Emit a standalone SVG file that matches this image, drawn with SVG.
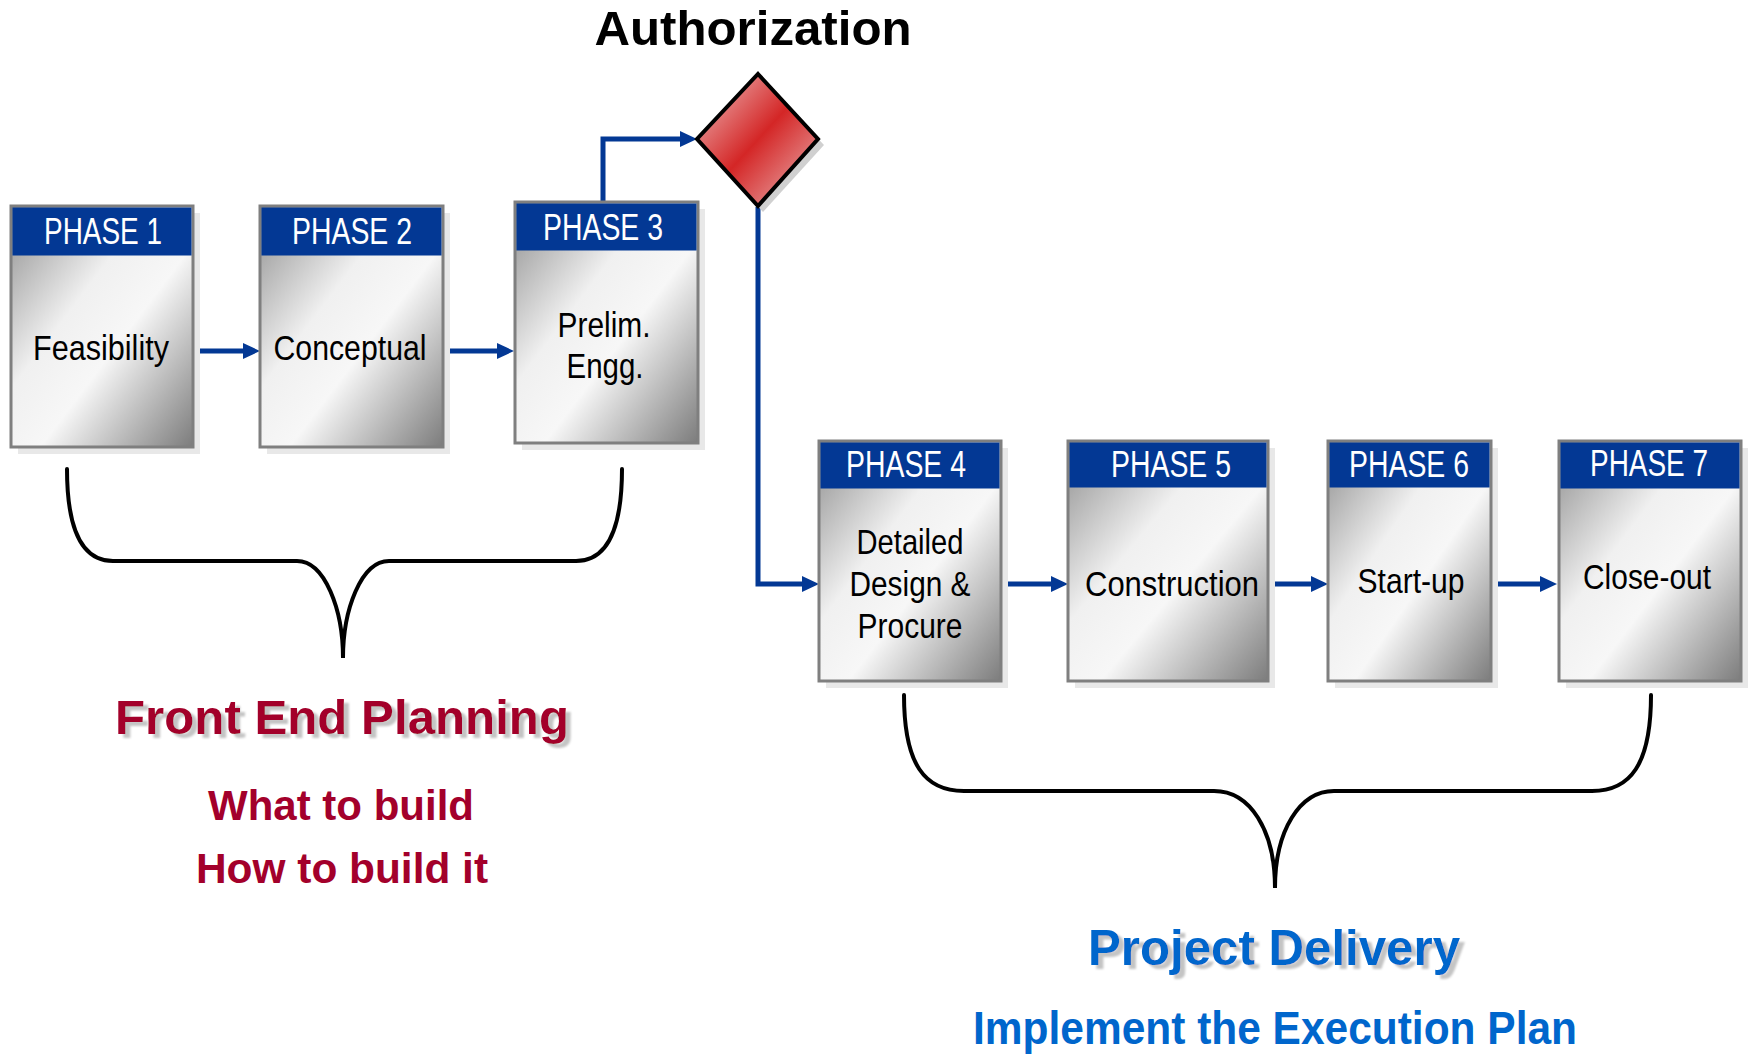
<svg xmlns="http://www.w3.org/2000/svg" width="1750" height="1055" viewBox="0 0 1750 1055">
  <defs>
    <linearGradient id="boxGrad" x1="0" y1="0" x2="1" y2="1">
      <stop offset="0" stop-color="#8e8e8e"/>
      <stop offset="0.38" stop-color="#f0f0f0"/>
      <stop offset="0.58" stop-color="#f7f7f7"/>
      <stop offset="1" stop-color="#7c7c7c"/>
    </linearGradient>
    <linearGradient id="diaGrad" x1="0" y1="0" x2="1" y2="1">
      <stop offset="0" stop-color="#efc4c4"/>
      <stop offset="0.5" stop-color="#d42626"/>
      <stop offset="1" stop-color="#ecbcbc"/>
    </linearGradient>
    <filter id="tshadow" x="-5%" y="-20%" width="115%" height="150%">
      <feDropShadow dx="5" dy="4" stdDeviation="0.8" flood-color="#c4c4c4" flood-opacity="1"/>
    </filter>
    <marker id="arr" markerUnits="userSpaceOnUse" markerWidth="18" markerHeight="18" refX="7" refY="8" orient="auto">
      <path d="M0,0 L17,8 L0,16 Z" fill="#033894"/>
    </marker>
  </defs>
  <style>
    .shadow { fill: #e8e8e8; }
    .body { fill: url(#boxGrad); stroke: #7f7f7f; stroke-width: 3; }
    .head { fill: #033894; }
    .htxt { font-family: "Liberation Sans Narrow", "Arial Narrow", "Liberation Sans", sans-serif; font-size: 36px; fill: #ffffff; text-anchor: middle; }
    .btxt { font-family: "Liberation Sans Narrow", "Arial Narrow", "Liberation Sans", sans-serif; font-size: 35px; fill: #000000; text-anchor: middle; }
    .conn { fill: none; stroke: #033894; stroke-width: 5; marker-end: url(#arr); }
    .brace { fill: none; stroke: #000000; stroke-width: 4; stroke-linecap: round; }
    .title { font-family: "Liberation Sans", Arial, sans-serif; font-weight: bold; text-anchor: middle; }
    .red { fill: #a3002b; }
    .blue { fill: #0066cc; }
    .sh { filter: url(#tshadow); }
  </style>

  <text class="title" x="753" y="45" font-size="48" fill="#000000" textLength="317" lengthAdjust="spacingAndGlyphs">Authorization</text>

  <g id="connectors">
    <path class="conn" d="M198,351 H250"/>
    <path class="conn" d="M449,351 H504"/>
    <path class="conn" d="M603,203 V139 H687"/>
    <path class="conn" d="M758,207 V584 H809"/>
    <path class="conn" d="M1007,584 H1058"/>
    <path class="conn" d="M1270,584 H1318"/>
    <path class="conn" d="M1493,584 H1547"/>
  </g>

  <g id="authorization">
    <polygon points="763,80 824,145 763,212 703,145" fill="#d0d0d0"/>
    <polygon points="758,74 818,139 758,206 697,139" fill="url(#diaGrad)" stroke="#000000" stroke-width="4" stroke-linejoin="miter"/>
  </g>

  <g id="phase1">
    <rect class="shadow" x="18" y="213" width="182" height="241"/>
    <rect class="body" x="11" y="206" width="182" height="241"/>
    <rect class="head" x="12.5" y="207.5" width="179" height="48"/>
    <text class="htxt" x="103" y="244" textLength="118" lengthAdjust="spacingAndGlyphs">PHASE 1</text>
    <text class="btxt" x="101" y="360" textLength="136" lengthAdjust="spacingAndGlyphs">Feasibility</text>
  </g>

  <g id="phase2">
    <rect class="shadow" x="267" y="213" width="183" height="241"/>
    <rect class="body" x="260" y="206" width="183" height="241"/>
    <rect class="head" x="261.5" y="207.5" width="180" height="48"/>
    <text class="htxt" x="352" y="244" textLength="120" lengthAdjust="spacingAndGlyphs">PHASE 2</text>
    <text class="btxt" x="350" y="360" textLength="153" lengthAdjust="spacingAndGlyphs">Conceptual</text>
  </g>

  <g id="phase3">
    <rect class="shadow" x="522" y="209" width="183" height="241"/>
    <rect class="body" x="515" y="202" width="183" height="241"/>
    <rect class="head" x="516.5" y="203.5" width="180" height="47"/>
    <text class="htxt" x="603" y="240" textLength="120" lengthAdjust="spacingAndGlyphs">PHASE 3</text>
    <text class="btxt" x="604" y="337" textLength="93" lengthAdjust="spacingAndGlyphs">Prelim.</text>
    <text class="btxt" x="605" y="378" textLength="77" lengthAdjust="spacingAndGlyphs">Engg.</text>
  </g>

  <g id="phase4">
    <rect class="shadow" x="826" y="448" width="182" height="240"/>
    <rect class="body" x="819" y="441" width="182" height="240"/>
    <rect class="head" x="820.5" y="442.5" width="179" height="46"/>
    <text class="htxt" x="906" y="477" textLength="120" lengthAdjust="spacingAndGlyphs">PHASE 4</text>
    <text class="btxt" x="910" y="554" textLength="107" lengthAdjust="spacingAndGlyphs">Detailed</text>
    <text class="btxt" x="910" y="596" textLength="121" lengthAdjust="spacingAndGlyphs">Design &amp;</text>
    <text class="btxt" x="910" y="638" textLength="105" lengthAdjust="spacingAndGlyphs">Procure</text>
  </g>

  <g id="phase5">
    <rect class="shadow" x="1075" y="448" width="200" height="240"/>
    <rect class="body" x="1068" y="441" width="200" height="240"/>
    <rect class="head" x="1069.5" y="442.5" width="197" height="45"/>
    <text class="htxt" x="1171" y="477" textLength="120" lengthAdjust="spacingAndGlyphs">PHASE 5</text>
    <text class="btxt" x="1172" y="596" textLength="174" lengthAdjust="spacingAndGlyphs">Construction</text>
  </g>

  <g id="phase6">
    <rect class="shadow" x="1335" y="448" width="163" height="240"/>
    <rect class="body" x="1328" y="441" width="163" height="240"/>
    <rect class="head" x="1329.5" y="442.5" width="160" height="45"/>
    <text class="htxt" x="1409" y="477" textLength="120" lengthAdjust="spacingAndGlyphs">PHASE 6</text>
    <text class="btxt" x="1411" y="593" textLength="107" lengthAdjust="spacingAndGlyphs">Start-up</text>
  </g>

  <g id="phase7">
    <rect class="shadow" x="1566" y="448" width="182" height="240"/>
    <rect class="body" x="1559" y="441" width="182" height="240"/>
    <rect class="head" x="1560.5" y="442.5" width="179" height="46"/>
    <text class="htxt" x="1649" y="476" textLength="118" lengthAdjust="spacingAndGlyphs">PHASE 7</text>
    <text class="btxt" x="1647" y="589" textLength="128" lengthAdjust="spacingAndGlyphs">Close-out</text>
  </g>

  <g id="brace-front-end">
    <path class="brace" d="M67,469 C67,535 85,561 113,561 L297,561 C325,561 343,610 343,658 C343,610 361,561 389,561 L576,561 C604,561 622,535 622,469"/>
  </g>
  <g id="brace-delivery">
    <path class="brace" d="M904,695 C904,765 925,791 964,791 L1214,791 C1250,791 1275,830 1275,888 C1275,830 1300,791 1334,791 L1592,791 C1630,791 1651,765 1651,695"/>
  </g>

  <g id="front-end-planning">
    <text class="title red sh" x="342" y="734" font-size="48" textLength="454" lengthAdjust="spacingAndGlyphs">Front End Planning</text>
    <text class="title red" x="341" y="820" font-size="42" textLength="266" lengthAdjust="spacingAndGlyphs">What to build</text>
    <text class="title red" x="342" y="883" font-size="42" textLength="292" lengthAdjust="spacingAndGlyphs">How to build it</text>
  </g>

  <g id="project-delivery">
    <text class="title blue sh" x="1274" y="965" font-size="50" textLength="372" lengthAdjust="spacingAndGlyphs">Project Delivery</text>
    <text class="title blue" x="1275" y="1044" font-size="46" textLength="604" lengthAdjust="spacingAndGlyphs">Implement the Execution Plan</text>
  </g>
</svg>
